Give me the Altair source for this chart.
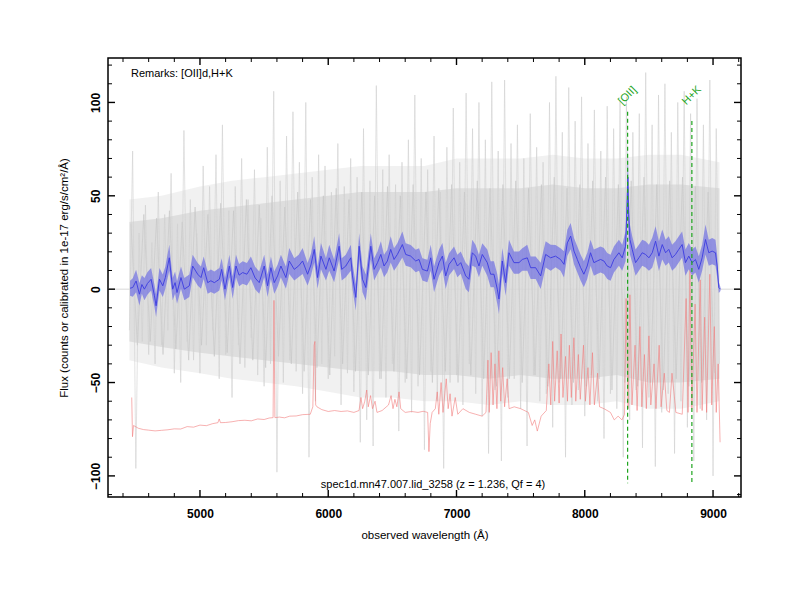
import altair as alt
import pandas as pd

FONT = "Liberation Sans"

# ---------------- axis ticks ----------------
x_major = [5000, 6000, 7000, 8000, 9000]
x_minor = [4400, 4600, 4800, 5200, 5400, 5600, 5800, 6200, 6400, 6600, 6800,
           7200, 7400, 7600, 7800, 8200, 8400, 8600, 8800, 9200]
y_major = [-100, -50, 0, 50, 100]
y_minor = [-110, -90, -80, -70, -60, -40, -30, -20, -10, 10, 20, 30, 40,
           60, 70, 80, 90, 110, 120]

# ---------------- raw (grey) spectrum, 25 A sampling ----------------
gray_wave = list(range(4450, 9051, 25))
gray_flux = [
    -22, 74, -96, 30, -28, 45, -35, 25, -40, 52,
    -30, 40, -22, 62, -45, 35, -50, 85, -28, 48,
    -38, 30, -45, 66, -30, 55, -22, 72, -48, 88,
    -35, 42, -58, 55, -30, 70, -42, 48, -26, 64,
    -46, 38, -52, 76, -40, 106, -98, 58, -50, 82,
    -38, 95, -44, 68, -56, 100, -90, 60, -60, 72,
    -40, 66, -48, 52, -36, 78, -62, 55, -45, 70,
    -55, 60, -82, 86, -70, 58, -84, 109, -48, 64,
    -58, 72, -40, 56, -76, 68, -50, 80, -66, 104,
    -52, 70, -86, 64, -44, 82, -60, 52, -96, 76,
    -50, 97, -46, 68, -62, 105, -40, 86, -56, 100,
    -68, 80, -88, 111, -54, 74, -92, 112, -58, 78,
    -48, 88, -64, 70, -84, 94, -46, 76, -60, 68,
    -56, 100, -74, 114, -50, 84, -90, 108, -62, 90,
    -54, 103, -68, 78, -46, 96, -60, 74, -80, 98,
    -56, 86, -64, 101, -90, 103, -70, 84, -54, 94,
    -85, 116, -58, 88, -95, 104, -66, 110, -56, 84,
    -88, 100, -60, 106, -74, 94, -92, 102, -64, 88,
    -70, 112, -100, 86, -40,
]

# texture of the dense core, 50 A sampling offset by 12 A
tex_wave = list(range(4462, 9013, 50))
tex_flux = [
    35, -30, 40, -28, 38, -35, 42, -32, 36, -38,
    44, -30, 40, -36, 46, -34, 42, -40, 48, -38,
    45, -42, 50, -36, 44, -40, 52, -44, 48, -42,
    50, -46, 54, -40, 48, -44, 52, -46, 50, -48,
    55, -44, 50, -48, 56, -46, 52, -50, 54, -44,
    56, -50, 52, -46, 58, -48, 54, -52, 56, -48,
    58, -50, 54, -46, 56, -52, 60, -48, 54, -50,
    56, -52, 58, -48, 60, -54, 56, -50, 58, -52,
    60, -50, 56, -54, 58, -48, 60, -52, 55, -50,
    52, -45,
]

# dense core envelope of the raw spectrum (inner and outer)
core_wave = [4450, 4700, 5000, 5250, 5500, 5750, 6000, 6250, 6500, 6750,
             7000, 7250, 7500, 7750, 8000, 8250, 8500, 8750, 9050]
core_lo = [-28, -31, -34, -36, -38, -40, -42, -44, -44, -46,
           -46, -48, -46, -48, -48, -46, -50, -50, -48]
core_hi = [36, 38, 42, 44, 46, 48, 50, 52, 52, 52,
           54, 54, 54, 56, 54, 54, 56, 56, 54]
halo_lo = [-38, -42, -45, -48, -50, -52, -55, -58, -58, -60,
           -60, -62, -60, -62, -62, -60, -64, -64, -60]
halo_hi = [48, 50, 55, 58, 60, 62, 64, 66, 66, 66,
           70, 70, 70, 72, 70, 70, 72, 72, 68]

# ---------------- smoothed (blue) spectrum ----------------
blue_wave = [
    4455, 4476, 4502, 4528, 4547, 4567, 4590, 4619, 4645, 4658,
    4684, 4710, 4730, 4761, 4787, 4806, 4821, 4852, 4878, 4917,
    4943, 4982, 5008, 5029, 5060, 5085, 5112, 5151, 5169, 5195,
    5229, 5255, 5281, 5305, 5333, 5366, 5397, 5430, 5462, 5501,
    5527, 5553, 5579, 5605, 5631, 5670, 5696, 5735, 5770, 5800,
    5839, 5865, 5891, 5917, 5943, 5982, 6008, 6046, 6085, 6105,
    6137, 6176, 6189, 6215, 6241, 6267, 6293, 6332, 6358, 6384,
    6410, 6435, 6461, 6487, 6513, 6539, 6578, 6604, 6643, 6682,
    6708, 6734, 6773, 6799, 6825, 6864, 6890, 6916, 6942, 6981,
    7007, 7033, 7072, 7097, 7123, 7149, 7175, 7201, 7240, 7266,
    7292, 7318, 7331, 7357, 7383, 7409, 7448, 7487, 7513, 7552,
    7578, 7617, 7656, 7695, 7734, 7772, 7811, 7838, 7864, 7890,
    7916, 7942, 7968, 7993, 8019, 8045, 8071, 8097, 8123, 8149,
    8175, 8201, 8227, 8266, 8292, 8318, 8330, 8336, 8342, 8352,
    8370, 8396, 8422, 8448, 8474, 8500, 8526, 8552, 8578, 8604,
    8630, 8655, 8681, 8707, 8733, 8759, 8785, 8811, 8837, 8863,
    8889, 8915, 8941, 8967, 8993, 9019, 9032, 9045, 9058,
]
blue_flux = [
    0.5, 0.9, 4.4, -2.7, 2.5, 0.0, 3.0, 5.3, -3.5, -8.9,
    5.3, 1.8, 6.2, 16.8, 0.0, 3.5, -1.8, 6.2, 0.0, 1.8,
    12.4, 8.0, 6.2, 11.5, 3.5, 4.5, 3.5, 5.3, 10.6, 0.0,
    12.4, 0.9, 12.4, 7.5, 8.9, 8.0, 11.5, 6.0, 3.5, 12.4,
    1.8, 11.5, 3.5, 7.1, 12.4, 6.2, 15.1, 10.6, 12.5, 15.1,
    8.0, 13.0, 21.3, 6.2, 17.7, 10.6, 16.8, 9.7, 23.0, 10.6,
    12.4, 16.8, 7.1, -4.4, 23.0, 5.3, 0.9, 23.0, 10.6, 14.2,
    18.6, 12.4, 15.1, 21.3, 15.9, 18.6, 23.9, 18.6, 17.7, 15.1,
    15.9, 10.6, 9.7, 16.8, 5.3, 14.2, 17.7, 7.1, 13.3, 16.8,
    12.4, 14.2, 7.1, 5.3, 19.5, 17.7, 12.4, 18.6, 14.2, 8.0,
    8.0, 0.0, -5.3, 15.1, 3.5, 19.5, 14.2, 14.2, 15.9, 16.8,
    11.5, 11.5, 7.1, 18.6, 16.8, 17.7, 15.9, 13.3, 24.8, 28.4,
    20.4, 15.9, 11.5, 8.0, 12.4, 19.5, 14.2, 15.1, 15.9, 15.1,
    12.4, 11.5, 15.9, 19.5, 16.8, 23.0, 45.0, 60.0, 40.0, 26.6,
    21.3, 14.2, 16.8, 19.5, 18.6, 16.8, 19.5, 25.7, 17.7, 23.9,
    19.5, 21.3, 16.8, 18.6, 21.3, 23.9, 14.2, 17.7, 14.2, 15.9,
    10.6, 16.8, 26.6, 19.5, 20.4, 19.5, 12.4, 0.9, 0.0,
]
blue_err = [
    4, 5, 6, 6, 5, 6, 6, 6, 6, 6,
    6, 6, 6, 7, 6, 6, 6, 6, 6, 6,
    6, 6, 6, 6, 6, 6, 6, 6, 6, 6,
    6, 6, 6, 6, 6, 6, 6, 6, 6, 6,
    6, 6, 6, 6, 6, 6, 7, 6, 6, 7,
    6, 6, 7, 6, 7, 6, 7, 6, 7, 6,
    6, 7, 7, 7, 7, 7, 7, 7, 6, 6,
    7, 6, 6, 7, 6, 6, 7, 6, 6, 6,
    6, 6, 6, 7, 7, 7, 7, 7, 6, 6,
    6, 6, 7, 7, 7, 6, 6, 6, 7, 7,
    7, 8, 8, 7, 7, 7, 6, 6, 6, 7,
    6, 6, 7, 7, 7, 6, 6, 7, 7, 7,
    7, 7, 7, 7, 7, 7, 7, 7, 7, 7,
    7, 7, 7, 7, 7, 8, 12, 16, 12, 8,
    7, 7, 7, 7, 7, 7, 8, 8, 8, 8,
    7, 7, 7, 7, 7, 7, 7, 7, 7, 7,
    7, 7, 8, 7, 7, 7, 6, 3, 1,
]

# ---------------- sky (red) spectrum ----------------
red_wave = [
    4468, 4474, 4482, 4520, 4560, 4600, 4650, 4700, 4750, 4800,
    4850, 4900, 4950, 5000, 5050, 5100, 5140, 5150, 5160, 5200,
    5250, 5300, 5350, 5400, 5450, 5500, 5540, 5570, 5577, 5584,
    5620, 5660, 5700, 5750, 5800, 5860, 5880, 5890, 5896, 5902,
    5912, 5950, 6000, 6050, 6100, 6150, 6200, 6240, 6255, 6268,
    6285, 6300, 6312, 6330, 6345, 6365, 6380, 6420, 6470, 6490,
    6505, 6520, 6535, 6552, 6565, 6600, 6650, 6700, 6740, 6775,
    6785, 6795, 6810, 6835, 6850, 6862, 6880, 6895, 6920, 6935,
    6950, 6965, 6990, 7010, 7050, 7100, 7150, 7200, 7230, 7245,
    7255, 7270, 7285, 7300, 7315, 7330, 7345, 7360, 7375, 7395,
    7410, 7450, 7500, 7560, 7590, 7610, 7630, 7660, 7700, 7720,
    7735, 7750, 7765, 7785, 7800, 7815, 7830, 7850, 7865, 7880,
    7895, 7915, 7930, 7950, 7965, 7990, 8005, 8025, 8040, 8060,
    8075, 8100, 8115, 8150, 8200, 8230, 8260, 8290, 8310, 8322,
    8338, 8352, 8368, 8392, 8408, 8430, 8445, 8465, 8480, 8500,
    8515, 8540, 8555, 8580, 8595, 8620, 8640, 8660, 8680, 8695,
    8710, 8760, 8790, 8805, 8820, 8835, 8860, 8875, 8900, 8915,
    8935, 8950, 8975, 8990, 9010, 9025, 9040, 9055,
]
red_flux = [
    -58, -79, -73, -74.5, -75.2, -75.5, -75.9, -75.6, -75.3, -74.8,
    -74.9, -73.6, -73.9, -72.8, -73.1, -72, -71.5, -69.5, -71.5, -71.4,
    -71, -70.4, -70.2, -70.5, -69.5, -69.8, -69, -68.8, -6, -68.8,
    -68.5, -68.9, -68, -67.9, -67.2, -67, -63, -30, -28, -62,
    -63, -64.5, -65.5, -65, -65.5, -65.2, -66, -65, -58, -64,
    -60, -54, -63, -57, -64, -60, -66, -65, -62, -57,
    -64, -59, -63, -55, -64, -66, -65.5, -66, -65.4, -66,
    -87, -72, -66, -64, -55, -67, -50, -66, -48, -64,
    -56, -68, -58, -67, -64, -66, -67, -68, -66, -38,
    -66, -34, -62, -40, -64, -33, -60, -42, -63, -48,
    -64, -63, -64, -66, -73, -70, -76, -68, -65, -40,
    -62, -28, -60, -33, -61, -24, -58, -36, -60, -30,
    -58, -26, -60, -35, -59, -30, -60, -42, -62, -34,
    -62, -45, -63, -64, -66, -70, -68, -70, -67, -5,
    -64, -3, -62, -30, -65, -20, -63, -35, -64, -25,
    -62, -40, -64, -30, -63, -45, -65, -66, -45, -55,
    -66, -67, -5, -66, 10, -64, -8, -66, 5, -65,
    -15, -66, 8, -62, -20, -66, -40, -82,
]

# ---------------- identified lines ----------------
line_name = ["[OII]", "H+K"]
line_wave = [8334, 8835]
line_top = [95, 90]
line_bottom = [-104, -104]
line_label_y = [103.6, 103.6]

remarks = ["Remarks: [OII]d,H+K"]
caption = ["spec1d.mn47.007.lid_3258 (z = 1.236, Qf = 4)"]
zero_level = [0]

# ---------------- tables ----------------
gray_df = pd.DataFrame({"wave": gray_wave, "flux": gray_flux})
tex_df = pd.DataFrame({"wave": tex_wave, "flux": tex_flux})
core_df = pd.DataFrame({"wave": core_wave, "lo": core_lo, "hi": core_hi,
                        "hlo": halo_lo, "hhi": halo_hi})
blue_df = pd.DataFrame({"wave": blue_wave, "flux": blue_flux, "err": blue_err})
blue_df["lo"] = blue_df["flux"] - blue_df["err"]
blue_df["hi"] = blue_df["flux"] + blue_df["err"]
red_df = pd.DataFrame({"wave": red_wave, "flux": red_flux})
lines_df = pd.DataFrame({"name": line_name, "wave": line_wave, "top": line_top,
                         "bottom": line_bottom, "ly": line_label_y})
xmaj_df = pd.DataFrame({"v": x_major})
xmin_df = pd.DataFrame({"v": x_minor})
ymaj_df = pd.DataFrame({"v": y_major})
ymin_df = pd.DataFrame({"v": y_minor})

W, H = 633, 439
XDOM = [4283, 9218]
YDOM = [-111.3, 123.8]

x_axis = alt.Axis(values=x_major, ticks=False, domain=False, grid=False, format="d",
                  labelFont=FONT, labelFontSize=12, labelFontWeight="bold",
                  labelColor="black", labelPadding=11,
                  title="observed wavelength (Å)", titleFont=FONT, titleFontSize=11.5,
                  titleFontWeight="normal", titleColor="black", titlePadding=10)
y_axis = alt.Axis(values=y_major, ticks=False, domain=False, grid=False, format="d",
                  labelFont=FONT, labelFontSize=12, labelFontWeight="bold",
                  labelColor="black", labelPadding=6, labelAngle=270,
                  labelAlign="center", labelBaseline="bottom",
                  title="Flux (counts or calibrated in 1e-17 erg/s/cm²/Å)",
                  titleFont=FONT, titleFontSize=11.5, titleFontWeight="normal",
                  titleColor="black", titlePadding=20)


def X(f):
    return alt.X(f, type="quantitative",
                 scale=alt.Scale(domain=XDOM, nice=False, zero=False), axis=x_axis)


def Y(f):
    return alt.Y(f, type="quantitative",
                 scale=alt.Scale(domain=YDOM, nice=False, zero=False), axis=y_axis)


halo = alt.Chart(core_df).mark_area(color="#dcdcdc", opacity=0.4).encode(
    x=X("wave"), y=Y("hlo"), y2=alt.Y2("hhi"))
core = alt.Chart(core_df).mark_area(color="#cdcdcd", opacity=0.55).encode(
    x=X("wave"), y=Y("lo"), y2=alt.Y2("hi"))
zero = alt.Chart(pd.DataFrame({"z": zero_level})).mark_rule(
    color="#d8d8d8", strokeWidth=1).encode(y=Y("z"))
tex = alt.Chart(tex_df).mark_line(color="#c4c4c4", strokeWidth=0.7, opacity=0.8).encode(
    x=X("wave"), y=Y("flux"))
gray = alt.Chart(gray_df).mark_line(color="#d0d0d0", strokeWidth=0.7, opacity=0.9).encode(
    x=X("wave"), y=Y("flux"))
red = alt.Chart(red_df).mark_line(color="#f27c7c", strokeWidth=0.7, opacity=0.85).encode(
    x=X("wave"), y=Y("flux"))
blue_band = alt.Chart(blue_df).mark_area(color="#7070e2", opacity=0.7).encode(
    x=X("wave"), y=Y("lo"), y2=alt.Y2("hi"))
blue = alt.Chart(blue_df).mark_line(color="#3b3be0", strokeWidth=0.9).encode(
    x=X("wave"), y=Y("flux"))
green = alt.Chart(lines_df).mark_rule(color="#1fa51f", strokeWidth=1.2,
                                      strokeDash=[4, 3]).encode(
    x=X("wave"), y=Y("top"), y2=alt.Y2("bottom"))
green_txt = alt.Chart(lines_df).mark_text(color="#1fa51f", font=FONT, fontSize=11,
                                          angle=315, align="center",
                                          baseline="middle").encode(
    x=X("wave"), y=Y("ly"), text="name:N")

remark_txt = alt.Chart(pd.DataFrame({"t": remarks})).mark_text(
    font=FONT, fontSize=11, color="black", align="left", baseline="middle").encode(
    x=alt.value(23), y=alt.value(16), text="t:N")
caption_txt = alt.Chart(pd.DataFrame({"t": caption})).mark_text(
    font=FONT, fontSize=11, color="black", align="center", baseline="middle").encode(
    x=alt.value(325), y=alt.value(427), text="t:N")

tick_layers = []
for df, ln, sw in [(xmaj_df, 7, 1.4), (xmin_df, 4, 1.0)]:
    tick_layers.append(alt.Chart(df).mark_rule(color="black", strokeWidth=sw).encode(
        x=X("v"), y=alt.value(H), y2=alt.value(H - ln)))
    tick_layers.append(alt.Chart(df).mark_rule(color="black", strokeWidth=sw).encode(
        x=X("v"), y=alt.value(0), y2=alt.value(ln)))
for df, ln, sw in [(ymaj_df, 7, 1.4), (ymin_df, 4, 1.0)]:
    tick_layers.append(alt.Chart(df).mark_rule(color="black", strokeWidth=sw).encode(
        y=Y("v"), x=alt.value(0), x2=alt.value(ln)))
    tick_layers.append(alt.Chart(df).mark_rule(color="black", strokeWidth=sw).encode(
        y=Y("v"), x=alt.value(W), x2=alt.value(W - ln)))

chart = alt.layer(
    halo, core, zero, tex, gray, red, blue_band, blue, green, green_txt,
    remark_txt, caption_txt, *tick_layers
).properties(
    width=W, height=H,
    autosize=alt.AutoSizeParams(type="none"),
    padding={"left": 100, "top": 50, "right": 51, "bottom": 93},
).configure_view(stroke="black", strokeWidth=1.5)

chart.save("out.html", embed_options={"renderer": "svg", "actions": False})
